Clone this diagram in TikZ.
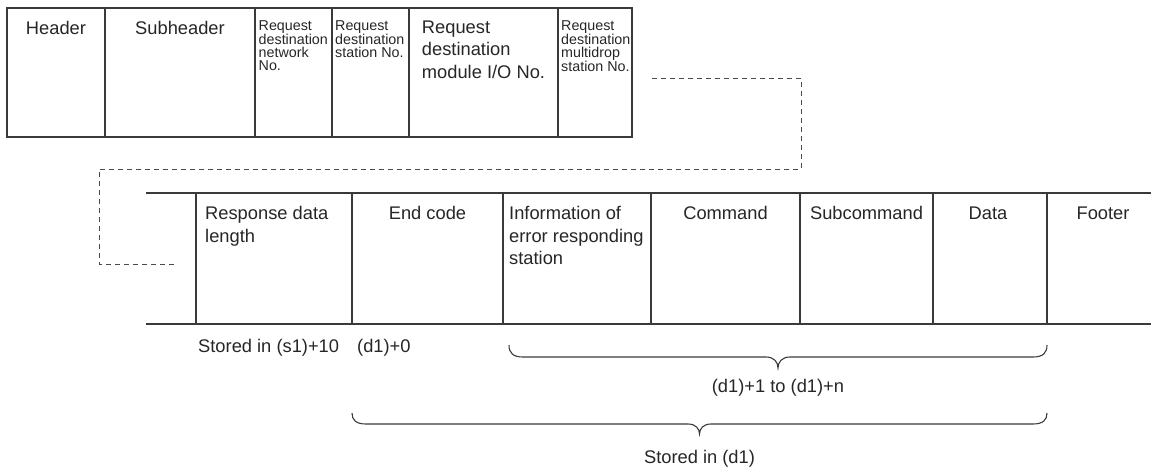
\documentclass[tikz,border=0pt]{standalone}
\usepackage{fontspec}
\setmainfont{Liberation Sans}
\definecolor{ink}{HTML}{262626}
\definecolor{rule}{HTML}{3A3A3A}
\definecolor{dashc}{HTML}{4A4A4A}
\newcommand\bigtxt{\fontsize{18.3}{22.5}\selectfont}
\newcommand\smalltxt{\fontsize{14.3}{12.6}\selectfont}
\tikzset{
  frame/.style={draw=rule, line width=1.1pt},
  cellline/.style={draw=rule, line width=1.1pt},
  link/.style={draw=dashc, line width=0.9pt, dash pattern=on 5pt off 4pt},
  bracepath/.style={draw=rule, line width=1.1pt},
  bigl/.style={font=\bigtxt, text=ink, inner sep=0pt, align=left},
  bigc/.style={font=\bigtxt, text=ink, inner sep=0pt, align=center},
  smalll/.style={font=\smalltxt, text=ink, inner sep=0pt, align=left},
}
\begin{document}
\begin{tikzpicture}[x=1pt, y=-1pt]
\useasboundingbox (0,0) rectangle (1151,469);
% ---------- top frame ----------
\draw[frame] (7,8) rectangle (632,137);
\foreach \xx in {105,255,332,409,558} \draw[cellline] (\xx,8) -- (\xx,137);
\node[bigc, anchor=north] (hdr) at (56,21) {Header};
\node[bigc, anchor=north] (sub) at (180,21) {Subheader};
\node[smalll, anchor=north west] (net) at (258.5,20.5) {Request\\destination\\network\\No.};
\node[smalll, anchor=north west] (sta) at (335,20.5) {Request\\destination\\station No.};
\node[bigl, anchor=north] (mod) at (483.5,20.5) {Request\\destination\\module I/O No.};
\node[smalll, anchor=north west] (mdp) at (561,20.5) {Request\\destination\\multidrop\\station No.};
% ---------- dashed continuation ----------
\coordinate (c0) at (652,78);
\coordinate (c1) at (801,78);
\coordinate (c2) at (801,169);
\coordinate (c3) at (99,169);
\coordinate (c4) at (99,264);
\coordinate (c5) at (175,264);
\draw[link] (c0) -- (c1) -- (c2) -- (c3) -- (c4) -- (c5);
% ---------- bottom frame ----------
\draw[cellline] (146,193) -- (1151,193);
\draw[cellline] (146,324) -- (1151,324);
\foreach \xx in {196,352,503,651,800,933,1047} \draw[cellline] (\xx,193) -- (\xx,324);
\node[bigl, anchor=north west] (rdl) at (205,206.5) {Response data\\length};
\node[bigc, anchor=north] (end) at (427.5,206.5) {End code};
\node[bigl, anchor=north west] (inf) at (509,206.5) {Information of\\error responding\\station};
\node[bigc, anchor=north] (cmd) at (725.5,206.5) {Command};
\node[bigc, anchor=north] (scm) at (866.5,206.5) {Subcommand};
\node[bigc, anchor=north] (dat) at (988,206.5) {Data};
\node[bigc, anchor=north] (ftr) at (1103,206.5) {Footer};
% ---------- storage notes ----------
\node[bigl, anchor=base west] (s1) at (198,352) {Stored in (s1)+10};
\node[bigl, anchor=base west] (d0) at (357,352) {(d1)+0};
\draw[bracepath] (509,345) .. controls (509,353) and (513,357) .. (523,357) -- (766,357)
  .. controls (774,357) and (778,362) .. (778,368)
  .. controls (778,362) and (782,357) .. (790,357) -- (1033,357)
  .. controls (1043,357) and (1047,353) .. (1047,345);
\coordinate (tipA) at (778,368);
\node[bigc, anchor=base] (dn) at (778,392) {(d1)+1 to (d1)+n};
\draw[bracepath] (352,413) .. controls (352,420) and (356,424) .. (366,424) -- (688,424)
  .. controls (696,424) and (699.5,429) .. (699.5,434)
  .. controls (699.5,429) and (703,424) .. (711,424) -- (1033,424)
  .. controls (1043,424) and (1047,420) .. (1047,413);
\coordinate (tipB) at (699.5,434);
\node[bigc, anchor=base] (sd) at (699.5,463) {Stored in (d1)};
\end{tikzpicture}
\end{document}
